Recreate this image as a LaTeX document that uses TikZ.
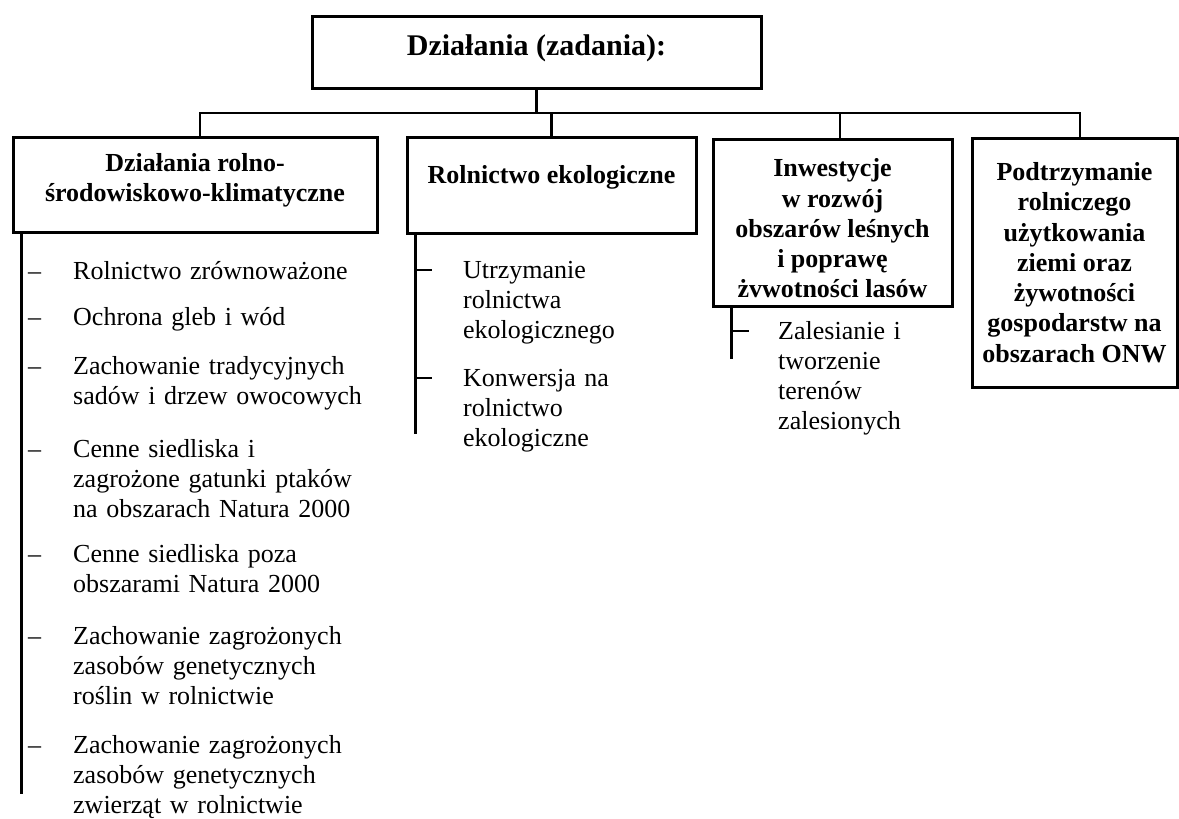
\documentclass[tikz,border=0pt]{standalone}
\usepackage{fontspec}
\setmainfont{Liberation Serif}
\usepackage{tikz}
\usetikzlibrary{positioning}

\begin{document}
\begin{tikzpicture}[x=1pt,y=-1pt]
\tikzstyle{box}=[rectangle,align=center,draw,line width=3pt,inner sep=0pt,fill=white,font=\bfseries\fontsize{26}{30.3}\selectfont]
\tikzstyle{link}=[line width=2.8pt]
\tikzstyle{tick}=[line width=2.3pt]
\tikzstyle{item}=[anchor=base west,inner sep=0pt,align=left,text width=330pt,font=\fontsize{26}{30.3}\selectfont]
\useasboundingbox (0,0) rectangle (1179,819);

% boxes
\node[box,font=\bfseries\fontsize{30}{36}\selectfont,minimum width=449pt,minimum height=72pt,text height=22pt,text depth=16pt] at(536.5, 52) (top) {Działania (zadania):};
\node[box,minimum width=364pt,minimum height=95pt] at(195, 184.5) (b1) {Działania rolno-\\środowiskowo-klimatyczne\rule[-14pt]{0pt}{14pt}};
\node[box,minimum width=289pt,minimum height=96pt,text height=18pt,text depth=22pt] at(551.5, 185) (b2) {Rolnictwo ekologiczne};
\node[box,minimum width=239pt,minimum height=167pt] at(832.5, 222.5) (b3) {\rule{0pt}{30pt}Inwestycje\\w rozwój\\obszarów leśnych\\i poprawę\\żvwotności lasów};
\node[box,minimum width=205pt,minimum height=249pt] at(1074.5, 262.5) (b4) {Podtrzymanie\\rolniczego\\użytkowania\\ziemi oraz\\żywotności\\gospodarstw na\\obszarach ONW};

% tree
\coordinate (barL) at (200, 113);
\coordinate (barR) at (1080, 113);
\coordinate (s3) at (840, 113);
\draw[link] (top.south) -- (top.south |- barL);
\draw[link] (barL |- b1.north) -- (barL) -- (barR) -- (barR |- b4.north);
\draw[link] (b2.north) -- (b2.north |- barL);
\draw[link] (s3) -- (s3 |- b3.north);

% lists
\coordinate (v1) at ([xshift=10pt]b1.south west);
\coordinate (v2) at ([xshift=10pt]b2.south west);
\coordinate (v3) at ([xshift=20pt]b3.south west);
\draw[link] (v1) -- ++(0, 560);
\draw[link] (v2) -- ++(0, 199);
\draw[link] (v3) -- ++(0, 51);

\node[item] at(73, 279) (i11) {Rolnictwo zrównoważone};
\node[item] at(73, 325) (i12) {Ochrona gleb i wód};
\node[item] at(73, 374) (i13) {Zachowanie tradycyjnych\\sadów i drzew owocowych};
\node[item] at(73, 457) (i14) {Cenne siedliska i\\zagrożone gatunki ptaków\\na obszarach Natura 2000};
\node[item] at(73, 562) (i15) {Cenne siedliska poza\\obszarami Natura 2000};
\node[item] at(73, 644) (i16) {Zachowanie zagrożonych\\zasobów genetycznych\\roślin w rolnictwie};
\node[item] at(73, 753) (i17) {Zachowanie zagrożonych\\zasobów genetycznych\\zwierząt w rolnictwie};
\foreach \n in {11,12,...,17}
  \node[item,text width=] at(28, 0 |- i\n.base) (d\n) {–};

\node[item] at(463, 278) (i21) {Utrzymanie\\rolnictwa\\ekologicznego};
\node[item] at(463, 386) (i22) {Konwersja na\\rolnictwo\\ekologiczne};
\foreach \n in {21,22}
  \draw[tick] (v2 |- i\n.base) ++(0,-8) -- ++(16,0);

\node[item] at(778, 339) (i31) {Zalesianie i\\tworzenie\\terenów\\zalesionych};
\draw[tick] (v3 |- i31.base) ++(0,-8) -- ++(17,0);
\end{tikzpicture}
\end{document}
